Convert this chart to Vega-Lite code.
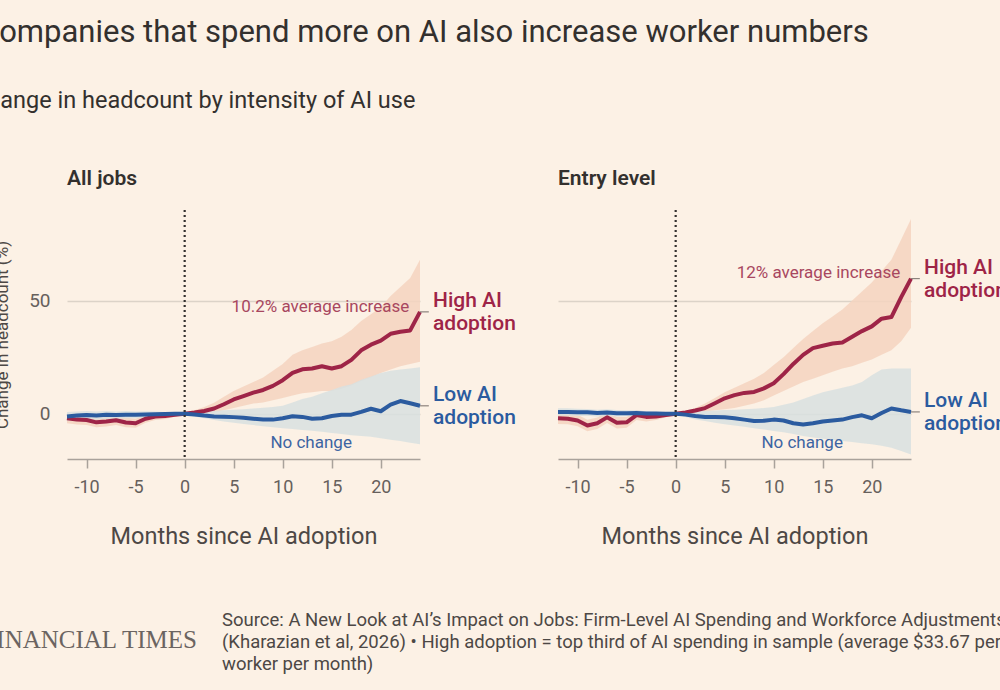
{
  "$schema": "https://vega.github.io/schema/vega-lite/v6.json",
  "autosize": {"type": "none"},
  "padding": {"left": 67, "top": 210, "right": 933, "bottom": 480},
  "background": "#fcf1e5",
  "title": {
    "text": "Companies that spend more on AI also increase worker numbers",
    "anchor": "start",
    "frame": "group",
    "dx": -88,
    "offset": 40,
    "font": "Roboto",
    "fontSize": 31,
    "fontWeight": "normal",
    "color": "#33302e"
  },
  "config": {
    "font": "Roboto",
    "view": {"stroke": null},
    "axisX": {
      "grid": false,
      "domainColor": "#a9a29b",
      "domainWidth": 1.5,
      "tickColor": "#a9a29b",
      "tickWidth": 1.5,
      "tickSize": 9,
      "labelFont": "Roboto",
      "labelFontSize": 18,
      "labelColor": "#66605c",
      "labelPadding": 10,
      "titleFont": "Roboto",
      "titleFontSize": 23.5,
      "titleFontWeight": "normal",
      "titleColor": "#4d4845",
      "titlePadding": 28
    },
    "axisY": {
      "grid": true,
      "gridColor": "#dcd3c8",
      "gridWidth": 1.5,
      "ticks": false,
      "domain": false,
      "labelFont": "Roboto",
      "labelFontSize": 19,
      "labelColor": "#66605c",
      "labelPadding": 17,
      "titleFont": "Roboto",
      "titleFontSize": 17,
      "titleFontWeight": "normal",
      "titleColor": "#4d4845",
      "titlePadding": 17
    }
  },
  "datasets": {
    "series": [
      {"panel": "All jobs", "group": "High", "month": -12, "value": -2.0, "lower": -4.2, "upper": 0.2},
      {"panel": "All jobs", "group": "High", "month": -11, "value": -2.6, "lower": -4.8, "upper": -0.4},
      {"panel": "All jobs", "group": "High", "month": -10, "value": -2.8, "lower": -5.0, "upper": -0.6},
      {"panel": "All jobs", "group": "High", "month": -9, "value": -3.8, "lower": -6.0, "upper": -1.6},
      {"panel": "All jobs", "group": "High", "month": -8, "value": -3.4, "lower": -5.6, "upper": -1.2},
      {"panel": "All jobs", "group": "High", "month": -7, "value": -2.9, "lower": -5.0, "upper": -0.8},
      {"panel": "All jobs", "group": "High", "month": -6, "value": -3.9, "lower": -6.0, "upper": -1.8},
      {"panel": "All jobs", "group": "High", "month": -5, "value": -4.2, "lower": -6.2, "upper": -2.2},
      {"panel": "All jobs", "group": "High", "month": -4, "value": -2.2, "lower": -4.0, "upper": -0.4},
      {"panel": "All jobs", "group": "High", "month": -3, "value": -1.2, "lower": -2.8, "upper": 0.4},
      {"panel": "All jobs", "group": "High", "month": -2, "value": -1.0, "lower": -2.3, "upper": 0.3},
      {"panel": "All jobs", "group": "High", "month": -1, "value": -0.5, "lower": -1.3, "upper": 0.3},
      {"panel": "All jobs", "group": "High", "month": 0, "value": 0, "lower": -0.3, "upper": 0.3},
      {"panel": "All jobs", "group": "High", "month": 1, "value": 0.5, "lower": -0.5, "upper": 1.5},
      {"panel": "All jobs", "group": "High", "month": 2, "value": 1.2, "lower": 0, "upper": 3},
      {"panel": "All jobs", "group": "High", "month": 3, "value": 2.3, "lower": 0.5, "upper": 4.8},
      {"panel": "All jobs", "group": "High", "month": 4, "value": 4.2, "lower": 1.5, "upper": 7.5},
      {"panel": "All jobs", "group": "High", "month": 5, "value": 6.3, "lower": 2.5, "upper": 10},
      {"panel": "All jobs", "group": "High", "month": 6, "value": 7.8, "lower": 3.5, "upper": 12},
      {"panel": "All jobs", "group": "High", "month": 7, "value": 9.3, "lower": 4.5, "upper": 14},
      {"panel": "All jobs", "group": "High", "month": 8, "value": 10.5, "lower": 5, "upper": 16},
      {"panel": "All jobs", "group": "High", "month": 9, "value": 12.3, "lower": 6, "upper": 19},
      {"panel": "All jobs", "group": "High", "month": 10, "value": 14.8, "lower": 7, "upper": 22},
      {"panel": "All jobs", "group": "High", "month": 11, "value": 18, "lower": 8, "upper": 26},
      {"panel": "All jobs", "group": "High", "month": 12, "value": 19.6, "lower": 9, "upper": 28},
      {"panel": "All jobs", "group": "High", "month": 13, "value": 20, "lower": 9.5, "upper": 29.5},
      {"panel": "All jobs", "group": "High", "month": 14, "value": 21, "lower": 10, "upper": 31},
      {"panel": "All jobs", "group": "High", "month": 15, "value": 20, "lower": 10, "upper": 32},
      {"panel": "All jobs", "group": "High", "month": 16, "value": 21, "lower": 11, "upper": 34},
      {"panel": "All jobs", "group": "High", "month": 17, "value": 23.8, "lower": 12.5, "upper": 37},
      {"panel": "All jobs", "group": "High", "month": 18, "value": 28, "lower": 14.5, "upper": 41},
      {"panel": "All jobs", "group": "High", "month": 19, "value": 30.5, "lower": 16, "upper": 44},
      {"panel": "All jobs", "group": "High", "month": 20, "value": 32.3, "lower": 18, "upper": 47},
      {"panel": "All jobs", "group": "High", "month": 21, "value": 35.3, "lower": 19.5, "upper": 52},
      {"panel": "All jobs", "group": "High", "month": 22, "value": 36.2, "lower": 21, "upper": 56},
      {"panel": "All jobs", "group": "High", "month": 23, "value": 36.8, "lower": 22, "upper": 60},
      {"panel": "All jobs", "group": "High", "month": 24, "value": 45, "lower": 23, "upper": 68},
      {"panel": "All jobs", "group": "Low", "month": -12, "value": -1.2, "lower": -3.0, "upper": 0.8},
      {"panel": "All jobs", "group": "Low", "month": -11, "value": -0.8, "lower": -2.6, "upper": 1.0},
      {"panel": "All jobs", "group": "Low", "month": -10, "value": -0.6, "lower": -2.4, "upper": 1.2},
      {"panel": "All jobs", "group": "Low", "month": -9, "value": -0.8, "lower": -2.5, "upper": 1.0},
      {"panel": "All jobs", "group": "Low", "month": -8, "value": -0.5, "lower": -2.2, "upper": 1.2},
      {"panel": "All jobs", "group": "Low", "month": -7, "value": -0.6, "lower": -2.2, "upper": 1.0},
      {"panel": "All jobs", "group": "Low", "month": -6, "value": -0.4, "lower": -2.0, "upper": 1.2},
      {"panel": "All jobs", "group": "Low", "month": -5, "value": -0.5, "lower": -2.0, "upper": 1.0},
      {"panel": "All jobs", "group": "Low", "month": -4, "value": -0.3, "lower": -1.7, "upper": 1.1},
      {"panel": "All jobs", "group": "Low", "month": -3, "value": -0.2, "lower": -1.4, "upper": 1.0},
      {"panel": "All jobs", "group": "Low", "month": -2, "value": -0.1, "lower": -1.0, "upper": 0.8},
      {"panel": "All jobs", "group": "Low", "month": -1, "value": 0, "lower": -0.6, "upper": 0.6},
      {"panel": "All jobs", "group": "Low", "month": 0, "value": 0, "lower": -0.3, "upper": 0.3},
      {"panel": "All jobs", "group": "Low", "month": 1, "value": -0.3, "lower": -1.2, "upper": 0.8},
      {"panel": "All jobs", "group": "Low", "month": 2, "value": -0.8, "lower": -2, "upper": 1},
      {"panel": "All jobs", "group": "Low", "month": 3, "value": -1.2, "lower": -2.8, "upper": 1.2},
      {"panel": "All jobs", "group": "Low", "month": 4, "value": -1.3, "lower": -3.4, "upper": 1.5},
      {"panel": "All jobs", "group": "Low", "month": 5, "value": -1.5, "lower": -4, "upper": 1.8},
      {"panel": "All jobs", "group": "Low", "month": 6, "value": -1.8, "lower": -4.5, "upper": 2},
      {"panel": "All jobs", "group": "Low", "month": 7, "value": -2.2, "lower": -5, "upper": 2.3},
      {"panel": "All jobs", "group": "Low", "month": 8, "value": -2.6, "lower": -5.5, "upper": 2.6},
      {"panel": "All jobs", "group": "Low", "month": 9, "value": -2.6, "lower": -6, "upper": 3},
      {"panel": "All jobs", "group": "Low", "month": 10, "value": -2, "lower": -6.4, "upper": 3.5},
      {"panel": "All jobs", "group": "Low", "month": 11, "value": -1.1, "lower": -6.8, "upper": 5},
      {"panel": "All jobs", "group": "Low", "month": 12, "value": -1.4, "lower": -7.2, "upper": 6.5},
      {"panel": "All jobs", "group": "Low", "month": 13, "value": -2.2, "lower": -7.5, "upper": 7.5},
      {"panel": "All jobs", "group": "Low", "month": 14, "value": -2, "lower": -8, "upper": 9},
      {"panel": "All jobs", "group": "Low", "month": 15, "value": -1, "lower": -8.5, "upper": 10.5},
      {"panel": "All jobs", "group": "Low", "month": 16, "value": -0.5, "lower": -9, "upper": 12},
      {"panel": "All jobs", "group": "Low", "month": 17, "value": -0.4, "lower": -9.5, "upper": 13},
      {"panel": "All jobs", "group": "Low", "month": 18, "value": 0.8, "lower": -9.8, "upper": 15},
      {"panel": "All jobs", "group": "Low", "month": 19, "value": 2.2, "lower": -10.2, "upper": 16.5},
      {"panel": "All jobs", "group": "Low", "month": 20, "value": 1.1, "lower": -10.8, "upper": 18},
      {"panel": "All jobs", "group": "Low", "month": 21, "value": 4, "lower": -11.5, "upper": 19},
      {"panel": "All jobs", "group": "Low", "month": 22, "value": 5.6, "lower": -12, "upper": 19.5},
      {"panel": "All jobs", "group": "Low", "month": 23, "value": 4.6, "lower": -12.8, "upper": 20},
      {"panel": "All jobs", "group": "Low", "month": 24, "value": 3.5, "lower": -13.5, "upper": 20.5},
      {"panel": "Entry level", "group": "High", "month": -12, "value": -2.0, "lower": -4.5, "upper": 0.5},
      {"panel": "Entry level", "group": "High", "month": -11, "value": -2.2, "lower": -4.7, "upper": 0.3},
      {"panel": "Entry level", "group": "High", "month": -10, "value": -3.0, "lower": -5.5, "upper": -0.5},
      {"panel": "Entry level", "group": "High", "month": -9, "value": -5.2, "lower": -7.7, "upper": -2.7},
      {"panel": "Entry level", "group": "High", "month": -8, "value": -4.2, "lower": -6.7, "upper": -1.7},
      {"panel": "Entry level", "group": "High", "month": -7, "value": -1.6, "lower": -4.1, "upper": 0.9},
      {"panel": "Entry level", "group": "High", "month": -6, "value": -4.0, "lower": -6.5, "upper": -1.5},
      {"panel": "Entry level", "group": "High", "month": -5, "value": -3.8, "lower": -6.2, "upper": -1.4},
      {"panel": "Entry level", "group": "High", "month": -4, "value": -0.6, "lower": -2.8, "upper": 1.6},
      {"panel": "Entry level", "group": "High", "month": -3, "value": -1.4, "lower": -3.4, "upper": 0.6},
      {"panel": "Entry level", "group": "High", "month": -2, "value": -1.2, "lower": -2.8, "upper": 0.4},
      {"panel": "Entry level", "group": "High", "month": -1, "value": -0.6, "lower": -1.6, "upper": 0.4},
      {"panel": "Entry level", "group": "High", "month": 0, "value": 0, "lower": -0.3, "upper": 0.3},
      {"panel": "Entry level", "group": "High", "month": 1, "value": 0.6, "lower": 0, "upper": 1.2},
      {"panel": "Entry level", "group": "High", "month": 2, "value": 1.4, "lower": 0.5, "upper": 2.5},
      {"panel": "Entry level", "group": "High", "month": 3, "value": 2.5, "lower": 1, "upper": 4.5},
      {"panel": "Entry level", "group": "High", "month": 4, "value": 4.6, "lower": 1.5, "upper": 7},
      {"panel": "Entry level", "group": "High", "month": 5, "value": 6.8, "lower": 2, "upper": 9.5},
      {"panel": "Entry level", "group": "High", "month": 6, "value": 8.2, "lower": 2.5, "upper": 11.5},
      {"panel": "Entry level", "group": "High", "month": 7, "value": 9.2, "lower": 3.5, "upper": 13.5},
      {"panel": "Entry level", "group": "High", "month": 8, "value": 9.6, "lower": 4.5, "upper": 15.5},
      {"panel": "Entry level", "group": "High", "month": 9, "value": 11.2, "lower": 6, "upper": 18},
      {"panel": "Entry level", "group": "High", "month": 10, "value": 13.5, "lower": 8, "upper": 21.5},
      {"panel": "Entry level", "group": "High", "month": 11, "value": 17.5, "lower": 10, "upper": 25},
      {"panel": "Entry level", "group": "High", "month": 12, "value": 22, "lower": 12, "upper": 29},
      {"panel": "Entry level", "group": "High", "month": 13, "value": 26, "lower": 14, "upper": 33},
      {"panel": "Entry level", "group": "High", "month": 14, "value": 29, "lower": 15.5, "upper": 36.5},
      {"panel": "Entry level", "group": "High", "month": 15, "value": 30, "lower": 17, "upper": 40},
      {"panel": "Entry level", "group": "High", "month": 16, "value": 31, "lower": 18.5, "upper": 43},
      {"panel": "Entry level", "group": "High", "month": 17, "value": 31.5, "lower": 20, "upper": 46},
      {"panel": "Entry level", "group": "High", "month": 18, "value": 34, "lower": 21, "upper": 50},
      {"panel": "Entry level", "group": "High", "month": 19, "value": 36.5, "lower": 22.5, "upper": 54},
      {"panel": "Entry level", "group": "High", "month": 20, "value": 38.6, "lower": 24, "upper": 58},
      {"panel": "Entry level", "group": "High", "month": 21, "value": 42, "lower": 26, "upper": 63},
      {"panel": "Entry level", "group": "High", "month": 22, "value": 42.7, "lower": 28, "upper": 68},
      {"panel": "Entry level", "group": "High", "month": 23, "value": 51.5, "lower": 32, "upper": 77},
      {"panel": "Entry level", "group": "High", "month": 24, "value": 59.7, "lower": 38, "upper": 86},
      {"panel": "Entry level", "group": "Low", "month": -12, "value": 0.8, "lower": -0.8, "upper": 2.4},
      {"panel": "Entry level", "group": "Low", "month": -11, "value": 0.8, "lower": -0.8, "upper": 2.4},
      {"panel": "Entry level", "group": "Low", "month": -10, "value": 0.6, "lower": -1.0, "upper": 2.2},
      {"panel": "Entry level", "group": "Low", "month": -9, "value": 0.6, "lower": -0.9, "upper": 2.1},
      {"panel": "Entry level", "group": "Low", "month": -8, "value": 0.3, "lower": -1.2, "upper": 1.8},
      {"panel": "Entry level", "group": "Low", "month": -7, "value": 0.5, "lower": -1.0, "upper": 2.0},
      {"panel": "Entry level", "group": "Low", "month": -6, "value": 0.2, "lower": -1.2, "upper": 1.6},
      {"panel": "Entry level", "group": "Low", "month": -5, "value": 0.2, "lower": -1.1, "upper": 1.5},
      {"panel": "Entry level", "group": "Low", "month": -4, "value": 0.3, "lower": -0.9, "upper": 1.5},
      {"panel": "Entry level", "group": "Low", "month": -3, "value": 0.1, "lower": -0.9, "upper": 1.1},
      {"panel": "Entry level", "group": "Low", "month": -2, "value": 0.1, "lower": -0.7, "upper": 0.9},
      {"panel": "Entry level", "group": "Low", "month": -1, "value": 0, "lower": -0.5, "upper": 0.5},
      {"panel": "Entry level", "group": "Low", "month": 0, "value": 0, "lower": -0.3, "upper": 0.3},
      {"panel": "Entry level", "group": "Low", "month": 1, "value": -0.4, "lower": -1.5, "upper": 0.8},
      {"panel": "Entry level", "group": "Low", "month": 2, "value": -1, "lower": -2.5, "upper": 1},
      {"panel": "Entry level", "group": "Low", "month": 3, "value": -1.4, "lower": -3.2, "upper": 1.2},
      {"panel": "Entry level", "group": "Low", "month": 4, "value": -1.5, "lower": -4, "upper": 1.4},
      {"panel": "Entry level", "group": "Low", "month": 5, "value": -1.6, "lower": -4.6, "upper": 1.6},
      {"panel": "Entry level", "group": "Low", "month": 6, "value": -2, "lower": -5.2, "upper": 1.8},
      {"panel": "Entry level", "group": "Low", "month": 7, "value": -2.6, "lower": -5.8, "upper": 2},
      {"panel": "Entry level", "group": "Low", "month": 8, "value": -3.2, "lower": -6.4, "upper": 2.2},
      {"panel": "Entry level", "group": "Low", "month": 9, "value": -3.1, "lower": -7, "upper": 2.5},
      {"panel": "Entry level", "group": "Low", "month": 10, "value": -2.6, "lower": -7.6, "upper": 3},
      {"panel": "Entry level", "group": "Low", "month": 11, "value": -3, "lower": -8.2, "upper": 4},
      {"panel": "Entry level", "group": "Low", "month": 12, "value": -4.2, "lower": -9, "upper": 5},
      {"panel": "Entry level", "group": "Low", "month": 13, "value": -4.8, "lower": -9.8, "upper": 6.5},
      {"panel": "Entry level", "group": "Low", "month": 14, "value": -4.2, "lower": -10.5, "upper": 8},
      {"panel": "Entry level", "group": "Low", "month": 15, "value": -3.4, "lower": -11, "upper": 9.5},
      {"panel": "Entry level", "group": "Low", "month": 16, "value": -3, "lower": -11.5, "upper": 10.5},
      {"panel": "Entry level", "group": "Low", "month": 17, "value": -2.6, "lower": -12, "upper": 11.5},
      {"panel": "Entry level", "group": "Low", "month": 18, "value": -1.5, "lower": -12.5, "upper": 12.5},
      {"panel": "Entry level", "group": "Low", "month": 19, "value": -0.7, "lower": -13, "upper": 14},
      {"panel": "Entry level", "group": "Low", "month": 20, "value": -2, "lower": -13.5, "upper": 17},
      {"panel": "Entry level", "group": "Low", "month": 21, "value": 0.3, "lower": -14.2, "upper": 19.5},
      {"panel": "Entry level", "group": "Low", "month": 22, "value": 2.3, "lower": -15, "upper": 20},
      {"panel": "Entry level", "group": "Low", "month": 23, "value": 1.5, "lower": -16.5, "upper": 20},
      {"panel": "Entry level", "group": "Low", "month": 24, "value": 0.8, "lower": -18, "upper": 20}
    ],
    "names": [
      {"group": "High", "name": "High AI\nadoption"},
      {"group": "Low", "name": "Low AI\nadoption"}
    ],
    "notes": [
      {"panel": "All jobs", "kind": "increase", "month": 22.9, "value": 47.1, "text": "10.2% average increase"},
      {"panel": "All jobs", "kind": "none", "month": 12.9, "value": -12.9, "text": "No change"},
      {"panel": "Entry level", "kind": "increase", "month": 22.9, "value": 62.1, "text": "12% average increase"},
      {"panel": "Entry level", "kind": "none", "month": 12.9, "value": -12.9, "text": "No change"}
    ],
    "adoption": [
      {"month": 0}
    ],
    "blank": [
      {"note": ""}
    ]
  },
  "bounds": "flush",
  "spacing": 395,
  "vconcat": [
    {
      "bounds": "flush",
      "spacing": 138,
      "title": {
        "text": "Change in headcount by intensity of AI use",
        "anchor": "start",
        "frame": "group",
        "dx": -95,
        "offset": 55,
        "font": "Roboto",
        "fontSize": 23.5,
        "fontWeight": "normal",
        "color": "#33302e"
      },
      "hconcat": [
        {
          "width": 353,
          "height": 249,
          "title": {"text": "All jobs", "anchor": "start", "frame": "group", "fontSize": 21, "fontWeight": 600, "color": "#33302e", "offset": 20},
          "data": {"name": "series"},
          "encoding": {
            "x": {
              "field": "month",
              "type": "quantitative",
              "scale": {"domain": [-12, 24], "nice": false, "zero": false},
              "axis": {"values": [-10, -5, 0, 5, 10, 15, 20], "title": "Months since AI adoption", "labelExpr": "replace(datum.label, '\u2212', '-')"}
            }
          },
          "layer": [
            {
              "transform": [{"filter": "datum.panel === 'All jobs'"}],
              "mark": {"type": "area", "opacity": 0.85},
              "encoding": {
                "y": {
                  "field": "lower",
                  "type": "quantitative",
                  "scale": {"domain": [-20, 90], "nice": false, "zero": false},
                  "axis": {"values": [0, 50], "title": "Change in headcount (%)"}
                },
                "y2": {"field": "upper"},
                "fill": {"field": "group", "type": "nominal", "scale": {"domain": ["High", "Low"], "range": ["#f5d3c0", "#d8e0e0"]}, "legend": null}
              }
            },
            {
              "transform": [{"filter": "datum.panel === 'All jobs'"}],
              "mark": {"type": "line", "strokeWidth": 4, "strokeJoin": "round"},
              "encoding": {
                "y": {"field": "value", "type": "quantitative"},
                "stroke": {"field": "group", "type": "nominal", "scale": {"domain": ["High", "Low"], "range": ["#9e2447", "#2b5b9f"]}, "legend": null}
              }
            },
            {
              "data": {"name": "adoption"},
              "mark": {"type": "rule", "strokeDash": [2, 3], "strokeWidth": 2.2, "color": "#33302e"},
              "encoding": {}
            },
            {
              "transform": [{"filter": "datum.panel === 'All jobs' && datum.month === 24"}],
              "mark": {"type": "rule", "strokeWidth": 1.2, "color": "#8c837d"},
              "encoding": {"x2": {"datum": 24.9}, "y": {"field": "value", "type": "quantitative"}}
            },
            {
              "transform": [
                {"filter": "datum.panel === 'All jobs' && datum.month === 24"},
                {"lookup": "group", "from": {"data": {"name": "names"}, "key": "group", "fields": ["name"]}}
              ],
              "mark": {"type": "text", "align": "left", "baseline": "middle", "dx": 13, "dy": -11, "fontSize": 21, "fontWeight": 500, "lineBreak": "\n", "lineHeight": 23},
              "encoding": {
                "y": {"field": "value", "type": "quantitative"},
                "text": {"field": "name"},
                "color": {"condition": {"test": "datum.group === 'High'", "value": "#9e2447"}, "value": "#2b5b9f"}
              }
            },
            {
              "data": {"name": "notes"},
              "transform": [{"filter": "datum.panel === 'All jobs' && datum.kind === 'increase'"}],
              "mark": {"type": "text", "align": "right", "baseline": "middle", "fontSize": 17, "color": "#a8475f"},
              "encoding": {"y": {"field": "value", "type": "quantitative"}, "text": {"field": "text"}}
            },
            {
              "data": {"name": "notes"},
              "transform": [{"filter": "datum.panel === 'All jobs' && datum.kind === 'none'"}],
              "mark": {"type": "text", "align": "center", "baseline": "middle", "fontSize": 17, "color": "#3d64a2"},
              "encoding": {"y": {"field": "value", "type": "quantitative"}, "text": {"field": "text"}}
            }
          ]
        },
        {
          "width": 353,
          "height": 249,
          "title": {"text": "Entry level", "anchor": "start", "frame": "group", "fontSize": 21, "fontWeight": 600, "color": "#33302e", "offset": 20},
          "data": {"name": "series"},
          "encoding": {
            "x": {
              "field": "month",
              "type": "quantitative",
              "scale": {"domain": [-12, 24], "nice": false, "zero": false},
              "axis": {"values": [-10, -5, 0, 5, 10, 15, 20], "title": "Months since AI adoption", "labelExpr": "replace(datum.label, '\u2212', '-')"}
            }
          },
          "layer": [
            {
              "transform": [{"filter": "datum.panel === 'Entry level'"}],
              "mark": {"type": "area", "opacity": 0.85},
              "encoding": {
                "y": {
                  "field": "lower",
                  "type": "quantitative",
                  "scale": {"domain": [-20, 90], "nice": false, "zero": false},
                  "axis": {"values": [0, 50], "labels": false, "title": null}
                },
                "y2": {"field": "upper"},
                "fill": {"field": "group", "type": "nominal", "scale": {"domain": ["High", "Low"], "range": ["#f5d3c0", "#d8e0e0"]}, "legend": null}
              }
            },
            {
              "transform": [{"filter": "datum.panel === 'Entry level'"}],
              "mark": {"type": "line", "strokeWidth": 4, "strokeJoin": "round"},
              "encoding": {
                "y": {"field": "value", "type": "quantitative"},
                "stroke": {"field": "group", "type": "nominal", "scale": {"domain": ["High", "Low"], "range": ["#9e2447", "#2b5b9f"]}, "legend": null}
              }
            },
            {
              "data": {"name": "adoption"},
              "mark": {"type": "rule", "strokeDash": [2, 3], "strokeWidth": 2.2, "color": "#33302e"},
              "encoding": {}
            },
            {
              "transform": [{"filter": "datum.panel === 'Entry level' && datum.month === 24"}],
              "mark": {"type": "rule", "strokeWidth": 1.2, "color": "#8c837d"},
              "encoding": {"x2": {"datum": 24.9}, "y": {"field": "value", "type": "quantitative"}}
            },
            {
              "transform": [
                {"filter": "datum.panel === 'Entry level' && datum.month === 24"},
                {"lookup": "group", "from": {"data": {"name": "names"}, "key": "group", "fields": ["name"]}}
              ],
              "mark": {"type": "text", "align": "left", "baseline": "middle", "dx": 13, "dy": -11, "fontSize": 21, "fontWeight": 500, "lineBreak": "\n", "lineHeight": 23},
              "encoding": {
                "y": {"field": "value", "type": "quantitative"},
                "text": {"field": "name"},
                "color": {"condition": {"test": "datum.group === 'High'", "value": "#9e2447"}, "value": "#2b5b9f"}
              }
            },
            {
              "data": {"name": "notes"},
              "transform": [{"filter": "datum.panel === 'Entry level' && datum.kind === 'increase'"}],
              "mark": {"type": "text", "align": "right", "baseline": "middle", "fontSize": 17, "color": "#a8475f"},
              "encoding": {"y": {"field": "value", "type": "quantitative"}, "text": {"field": "text"}}
            },
            {
              "data": {"name": "notes"},
              "transform": [{"filter": "datum.panel === 'Entry level' && datum.kind === 'none'"}],
              "mark": {"type": "text", "align": "center", "baseline": "middle", "fontSize": 17, "color": "#3d64a2"},
              "encoding": {"y": {"field": "value", "type": "quantitative"}, "text": {"field": "text"}}
            }
          ]
        }
      ]
    },
    {
      "bounds": "flush",
      "spacing": 25,
      "hconcat": [
        {
          "width": 130,
          "height": 1,
          "data": {"name": "blank"},
          "mark": {"type": "text"},
          "encoding": {"text": {"field": "note"}},
          "title": {"text": "FINANCIAL TIMES", "orient": "bottom", "anchor": "end", "frame": "group", "font": "Liberation Serif", "fontSize": 25, "fontWeight": "normal", "color": "#6b6461", "offset": 17}
        },
        {
          "width": 780,
          "height": 1,
          "data": {"name": "blank"},
          "mark": {"type": "text"},
          "encoding": {"text": {"field": "note"}},
          "title": {
            "text": [
              "Source: A New Look at AI\u2019s Impact on Jobs: Firm-Level AI Spending and Workforce Adjustments",
              "(Kharazian et al, 2026) \u2022 High adoption = top third of AI spending in sample (average $33.67 per",
              "worker per month)"
            ],
            "orient": "bottom",
            "anchor": "start",
            "frame": "group",
            "font": "Roboto",
            "fontSize": 18.5,
            "fontWeight": "normal",
            "color": "#4d4845",
            "lineHeight": 22,
            "offset": 0
          }
        }
      ]
    }
  ]
}
